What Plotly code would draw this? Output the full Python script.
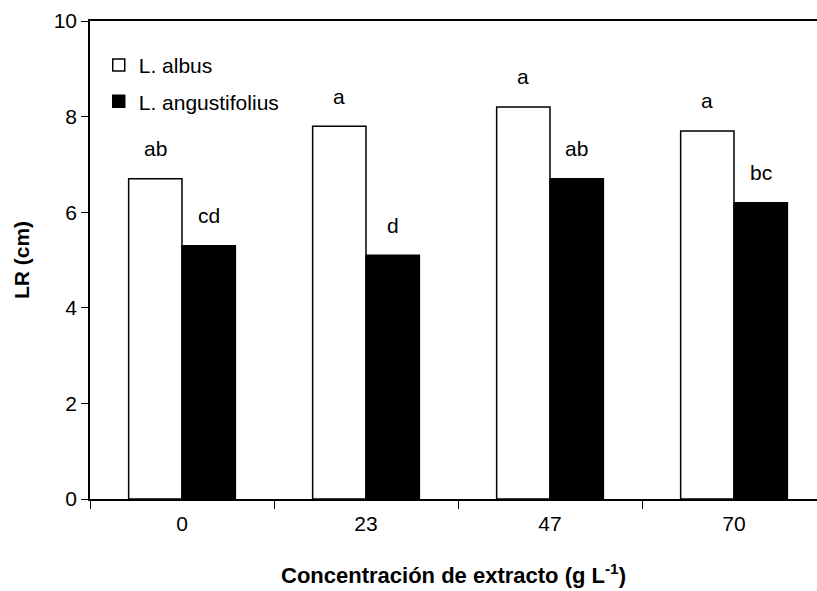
import plotly.graph_objects as go

# Root length by extract concentration for two lupin species
categories = ["0", "23", "47", "70"]
albus = [6.7, 7.8, 8.2, 7.7]
angustifolius = [5.3, 5.1, 6.7, 6.2]
albus_letters = ["ab", "a", "a", "a"]
angustifolius_letters = ["cd", "d", "ab", "bc"]
y_ticks = [0, 2, 4, 6, 8, 10]

FONT = "Liberation Sans, Arial, sans-serif"
FS = 21

fig = go.Figure()
fig.add_trace(go.Bar(
    x=categories, y=albus, name="L. albus",
    marker=dict(color="white", line=dict(color="black", width=1.5)),
    legendgroup="g1",
))
fig.add_trace(go.Bar(
    x=categories, y=angustifolius, name="L. angustifolius",
    marker=dict(color="black", line=dict(color="black", width=1.5)),
    legendgroup="g2",
))

# Significance letters above each bar
for i, cat in enumerate(categories):
    fig.add_annotation(x=i - 0.145, y=albus[i] + 0.63, text=albus_letters[i],
                       showarrow=False, font=dict(size=FS, color="black", family=FONT))
    fig.add_annotation(x=i + 0.145, y=angustifolius[i] + 0.63, text=angustifolius_letters[i],
                       showarrow=False, font=dict(size=FS, color="black", family=FONT))

fig.update_layout(
    width=817, height=591,
    margin=dict(l=90, r=0, t=21, b=92),
    paper_bgcolor="white", plot_bgcolor="white",
    barmode="group", bargap=0.42, bargroupgap=0,
    font=dict(family=FONT, size=FS, color="black"),
    showlegend=True,
    legend=dict(x=0.012, y=0.95, xanchor="left", yanchor="top",
                bgcolor="rgba(0,0,0,0)", font=dict(size=FS, family=FONT),
                traceorder="grouped", tracegroupgap=6,
                itemwidth=30),
    xaxis=dict(
        type="category", range=[-0.5, 3.451],
        showline=True, linecolor="black", linewidth=1.5, mirror=True,
        ticks="outside", tickson="boundaries", ticklen=8, tickwidth=1.2, tickcolor="black",
        ticklabelstandoff=5,
        showgrid=False, zeroline=False,
        tickfont=dict(size=FS, family=FONT),
        title=dict(text="<b>Concentración de extracto (g L<sup>-1</sup>)</b>",
                   font=dict(size=22, family=FONT), standoff=34),
    ),
    yaxis=dict(
        range=[0, 10], tickvals=y_ticks,
        showline=True, linecolor="black", linewidth=1.5,
        ticks="outside", ticklen=7, tickwidth=1.2, tickcolor="black",
        showgrid=False, zeroline=False,
        tickfont=dict(size=FS, family=FONT),
        title=dict(text="<b>LR (cm)</b>", font=dict(size=FS, family=FONT), standoff=18),
    ),
)

fig.write_html("out.html")
